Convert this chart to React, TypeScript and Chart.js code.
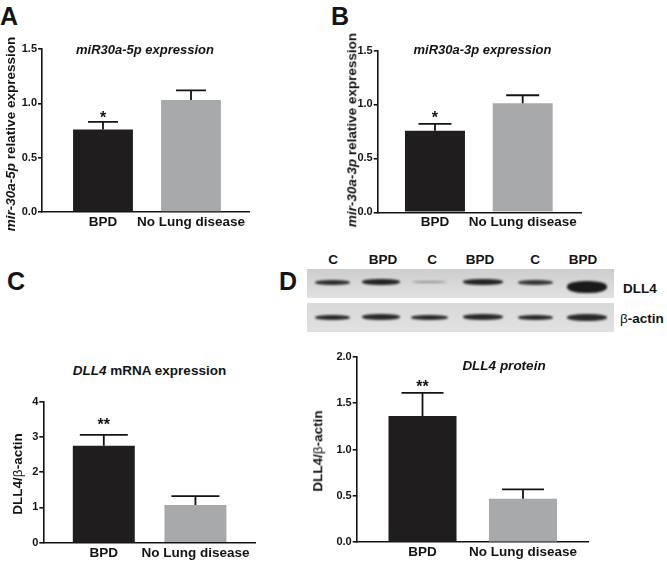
import React, { useEffect, useRef } from 'react';
import { Chart, registerables } from 'chart.js';

Chart.register(...registerables);

// ---------------- data ----------------
const categories = ['BPD', 'No Lung disease'];

const mir5pValues = [0.76, 1.03];
const mir5pErrors = [0.07, 0.09];
const mir5pStars = ['*', ''];
const mir5pTicks = [0, 0.5, 1.0, 1.5];

const mir3pValues = [0.755, 1.01];
const mir3pErrors = [0.065, 0.075];
const mir3pStars = ['*', ''];
const mir3pTicks = [0, 0.5, 1.0, 1.5];

const dll4MrnaValues = [2.75, 1.07];
const dll4MrnaErrors = [0.31, 0.25];
const dll4MrnaStars = ['**', ''];
const dll4MrnaTicks = [0, 1, 2, 3, 4];

const dll4ProteinValues = [1.36, 0.47];
const dll4ProteinErrors = [0.25, 0.1];
const dll4ProteinStars = ['**', ''];
const dll4ProteinTicks = [0, 0.5, 1.0, 1.5, 2.0];

const laneLabels = ['C', 'BPD', 'C', 'BPD', 'C', 'BPD'];
const dll4BandThickness = [5, 6, 2, 6, 5, 12];
const dll4BandDarkness = [0.9, 0.95, 0.35, 0.95, 0.85, 1];
const actinBandThickness = [5, 6, 5, 6, 5, 7];

// ---------------- styles ----------------
const FONT = '"Liberation Sans", Arial, Helvetica, sans-serif';
const INK = '#141414';
const barColors = ['#1f1d1e', '#a8a9ab'];

type PanelProps = {
  left: number; top: number; width: number; height: number;
  yAxisWidth: number; xAxisHeight: number; padTop: number; padRight: number;
  xMin: number; xMax: number; barFrac: number;
  values: number[]; errors: number[]; stars: string[]; yTicks: number[]; decimals: number;
  capWidth: number; starGap: number;
};

function BarPanel(p: PanelProps) {
  const ref = useRef<HTMLCanvasElement | null>(null);
  useEffect(() => {
    if (!ref.current) return;
    const errPlugin = {
      id: 'errbars',
      afterDatasetsDraw(chart: any) {
        const { ctx } = chart;
        const x = chart.scales.x;
        const y = chart.scales.y;
        ctx.save();
        p.values.forEach((v, i) => {
          const px = x.getPixelForValue(i);
          const yb = y.getPixelForValue(v);
          const yt = y.getPixelForValue(v + p.errors[i]);
          ctx.strokeStyle = INK;
          ctx.lineWidth = 1.8;
          ctx.beginPath();
          ctx.moveTo(px, yb);
          ctx.lineTo(px, yt);
          ctx.moveTo(px - p.capWidth / 2, yt);
          ctx.lineTo(px + p.capWidth / 2, yt);
          ctx.stroke();
          if (p.stars[i]) {
            ctx.font = `bold 16px ${FONT}`;
            ctx.fillStyle = INK;
            ctx.textAlign = 'center';
            ctx.textBaseline = 'alphabetic';
            ctx.fillText(p.stars[i], px, yt - p.starGap + 9);
          }
        });
        ctx.restore();
      },
    };
    const chart = new Chart(ref.current, {
      type: 'bar',
      data: {
        datasets: [
          {
            data: p.values.map((v, i) => ({ x: i, y: v })),
            backgroundColor: barColors,
            borderWidth: 0,
            barPercentage: p.barFrac,
            categoryPercentage: 1,
          },
        ],
      },
      options: {
        animation: false,
        responsive: false,
        maintainAspectRatio: false,
        layout: { padding: { top: p.padTop, right: p.padRight, bottom: 0, left: 0 } },
        plugins: { legend: { display: false }, tooltip: { enabled: false }, title: { display: false } },
        scales: {
          x: {
            type: 'linear',
            offset: false,
            bounds: 'data',
            min: p.xMin,
            max: p.xMax,
            afterBuildTicks: (s: any) => {
              s.ticks = categories.map((_, i) => ({ value: i }));
            },
            afterFit: (s: any) => {
              s.height = p.xAxisHeight;
            },
            grid: { display: false, drawTicks: false, offset: false },
            border: { display: true, color: INK, width: 1.6 },
            ticks: {
              autoSkip: false,
              maxRotation: 0,
              padding: 2,
              color: INK,
              font: { family: FONT, size: 13.5, weight: 'bold' },
              callback: (v: any) => categories[v] ?? '',
            },
          },
          y: {
            min: p.yTicks[0],
            max: p.yTicks[p.yTicks.length - 1],
            afterBuildTicks: (s: any) => {
              s.ticks = p.yTicks.map((v) => ({ value: v }));
            },
            afterFit: (s: any) => {
              s.width = p.yAxisWidth;
            },
            grid: { drawOnChartArea: false, drawTicks: true, tickLength: 4, color: INK, lineWidth: 1.6 },
            border: { display: true, color: INK, width: 1.6 },
            ticks: {
              padding: 1,
              color: INK,
              font: { family: FONT, size: 11, weight: 'bold' },
              callback: (v: any) => Number(v).toFixed(p.decimals),
            },
          },
        },
      },
      plugins: [errPlugin],
    } as any);
    return () => chart.destroy();
  }, []);
  return (
    <canvas
      ref={ref}
      width={p.width}
      height={p.height}
      style={{ position: 'absolute', left: p.left, top: p.top, width: p.width, height: p.height }}
    />
  );
}

function Txt(props: {
  x: number; y: number; size: number; children: React.ReactNode;
  center?: boolean; italic?: boolean; weight?: string;
}) {
  const { x, y, size, center, italic } = props;
  return (
    <div
      style={{
        position: 'absolute',
        left: x,
        top: y - 0.8465 * size,
        fontFamily: FONT,
        fontSize: size,
        lineHeight: `${size}px`,
        fontWeight: props.weight ?? 'bold',
        fontStyle: italic ? 'italic' : 'normal',
        color: INK,
        whiteSpace: 'nowrap',
        transform: center ? 'translateX(-50%)' : undefined,
      }}
    >
      {props.children}
    </div>
  );
}

function VTxt(props: { cx: number; cy: number; size: number; children: React.ReactNode }) {
  return (
    <div
      style={{
        position: 'absolute',
        left: props.cx,
        top: props.cy,
        fontFamily: FONT,
        fontSize: props.size,
        lineHeight: `${props.size}px`,
        fontWeight: 'bold',
        color: INK,
        whiteSpace: 'nowrap',
        transform: 'translate(-50%,-50%) rotate(-90deg)',
      }}
    >
      {props.children}
    </div>
  );
}

const laneCenters = [332, 381, 429, 483, 535, 587];
const laneLabelX = [333, 383, 432, 480, 535, 583];
const dll4BandWidths = [35, 38, 35, 40, 35, 40];
const actinBandWidths = [35, 38, 37, 40, 35, 40];

function Blot() {
  const L = 307;
  const W = 307;
  return (
    <>
      <div
        style={{
          position: 'absolute', left: L, top: 269, width: W, height: 29,
          background: 'linear-gradient(180deg, #cdcdcd 0%, #d6d6d6 45%, #e2e2e2 100%)',
          overflow: 'hidden',
        }}
      >
        {laneCenters.map((cx, i) => {
          const w = dll4BandWidths[i];
          const t = dll4BandThickness[i];
          const cy = i === 5 ? 18 : 13;
          return (
            <div
              key={i}
              style={{
                position: 'absolute', left: cx - L - w / 2, top: cy - t / 2, width: w, height: t,
                background: '#1a1a1a', opacity: dll4BandDarkness[i], borderRadius: '45%',
                filter: 'blur(0.8px)',
              }}
            />
          );
        })}
      </div>
      <div
        style={{
          position: 'absolute', left: L, top: 303, width: W, height: 29,
          background: 'linear-gradient(180deg, #d9d9d9 0%, #e1e1e1 100%)',
          overflow: 'hidden',
        }}
      >
        {laneCenters.map((cx, i) => {
          const w = actinBandWidths[i];
          const t = actinBandThickness[i];
          return (
            <div
              key={i}
              style={{
                position: 'absolute', left: cx - L - w / 2, top: 14 - t / 2, width: w, height: t,
                background: '#1a1a1a', opacity: 0.92, borderRadius: '45%', filter: 'blur(0.8px)',
              }}
            />
          );
        })}
      </div>
      {laneLabels.map((s, i) => (
        <Txt key={i} x={laneLabelX[i]} y={264} size={13.5} center>
          {s}
        </Txt>
      ))}
      <Txt x={623} y={293} size={13.5}>DLL4</Txt>
      <Txt x={620} y={323} size={13.5}>
        <span style={{ fontWeight: 'normal' }}>β</span>-actin
      </Txt>
    </>
  );
}

export default function App() {
  return (
    <div
      style={{
        position: 'absolute', left: 0, top: 0, width: 667, height: 565,
        background: '#fff', overflow: 'hidden',
      }}
    >
      {/* Panel A */}
      <BarPanel
        left={0} top={36} width={262} height={200}
        yAxisWidth={42} padTop={13} padRight={13} xAxisHeight={24}
        xMin={-0.693} xMax={1.659} barFrac={0.68}
        values={mir5pValues} errors={mir5pErrors} stars={mir5pStars}
        yTicks={mir5pTicks} decimals={1} capWidth={30} starGap={8}
      />
      {/* Panel B */}
      <BarPanel
        left={335} top={36} width={260} height={200}
        yAxisWidth={42.7} padTop={14.5} padRight={14} xAxisHeight={23.7}
        xMin={-0.653} xMax={1.665} barFrac={0.684}
        values={mir3pValues} errors={mir3pErrors} stars={mir3pStars}
        yTicks={mir3pTicks} decimals={1} capWidth={33} starGap={10}
      />
      {/* Panel C */}
      <BarPanel
        left={0} top={390} width={270} height={175}
        yAxisWidth={43.3} padTop={11.7} padRight={15} xAxisHeight={22.3}
        xMin={-0.66} xMax={1.65} barFrac={0.676}
        values={dll4MrnaValues} errors={dll4MrnaErrors} stars={dll4MrnaStars}
        yTicks={dll4MrnaTicks} decimals={0} capWidth={48} starGap={14}
      />
      {/* Panel D */}
      <BarPanel
        left={300} top={345} width={300} height={220}
        yAxisWidth={56.7} padTop={11.7} padRight={12} xAxisHeight={22.7}
        xMin={-0.655} xMax={1.647} barFrac={0.677}
        values={dll4ProteinValues} errors={dll4ProteinErrors} stars={dll4ProteinStars}
        yTicks={dll4ProteinTicks} decimals={1} capWidth={42} starGap={10}
      />

      <Blot />

      {/* panel letters */}
      <Txt x={0} y={25} size={25}>A</Txt>
      <Txt x={331} y={25} size={25}>B</Txt>
      <Txt x={7} y={290} size={25}>C</Txt>
      <Txt x={279} y={290} size={25}>D</Txt>

      {/* titles */}
      <Txt x={145} y={54.5} size={13} center italic>miR30a-5p expression</Txt>
      <Txt x={482.5} y={54.5} size={13} center italic>miR30a-3p expression</Txt>
      <Txt x={149.5} y={375.5} size={13.5} center>
        <i>DLL4</i> mRNA expression
      </Txt>
      <Txt x={504} y={370.5} size={13.5} center italic>DLL4 protein</Txt>

      {/* y-axis titles */}
      <VTxt cx={11} cy={134} size={13.5}>
        <i>mir-30a-5p</i> relative expression
      </VTxt>
      <VTxt cx={352} cy={130} size={13.5}>
        <i>mir-30a-3p</i> relative expression
      </VTxt>
      <VTxt cx={17.5} cy={474} size={13.5}>
        DLL4/<span style={{ fontWeight: 'normal' }}>β</span>-actin
      </VTxt>
      <VTxt cx={318} cy={451} size={13.5}>
        DLL4/<span style={{ fontWeight: 'normal' }}>β</span>-actin
      </VTxt>
    </div>
  );
}
